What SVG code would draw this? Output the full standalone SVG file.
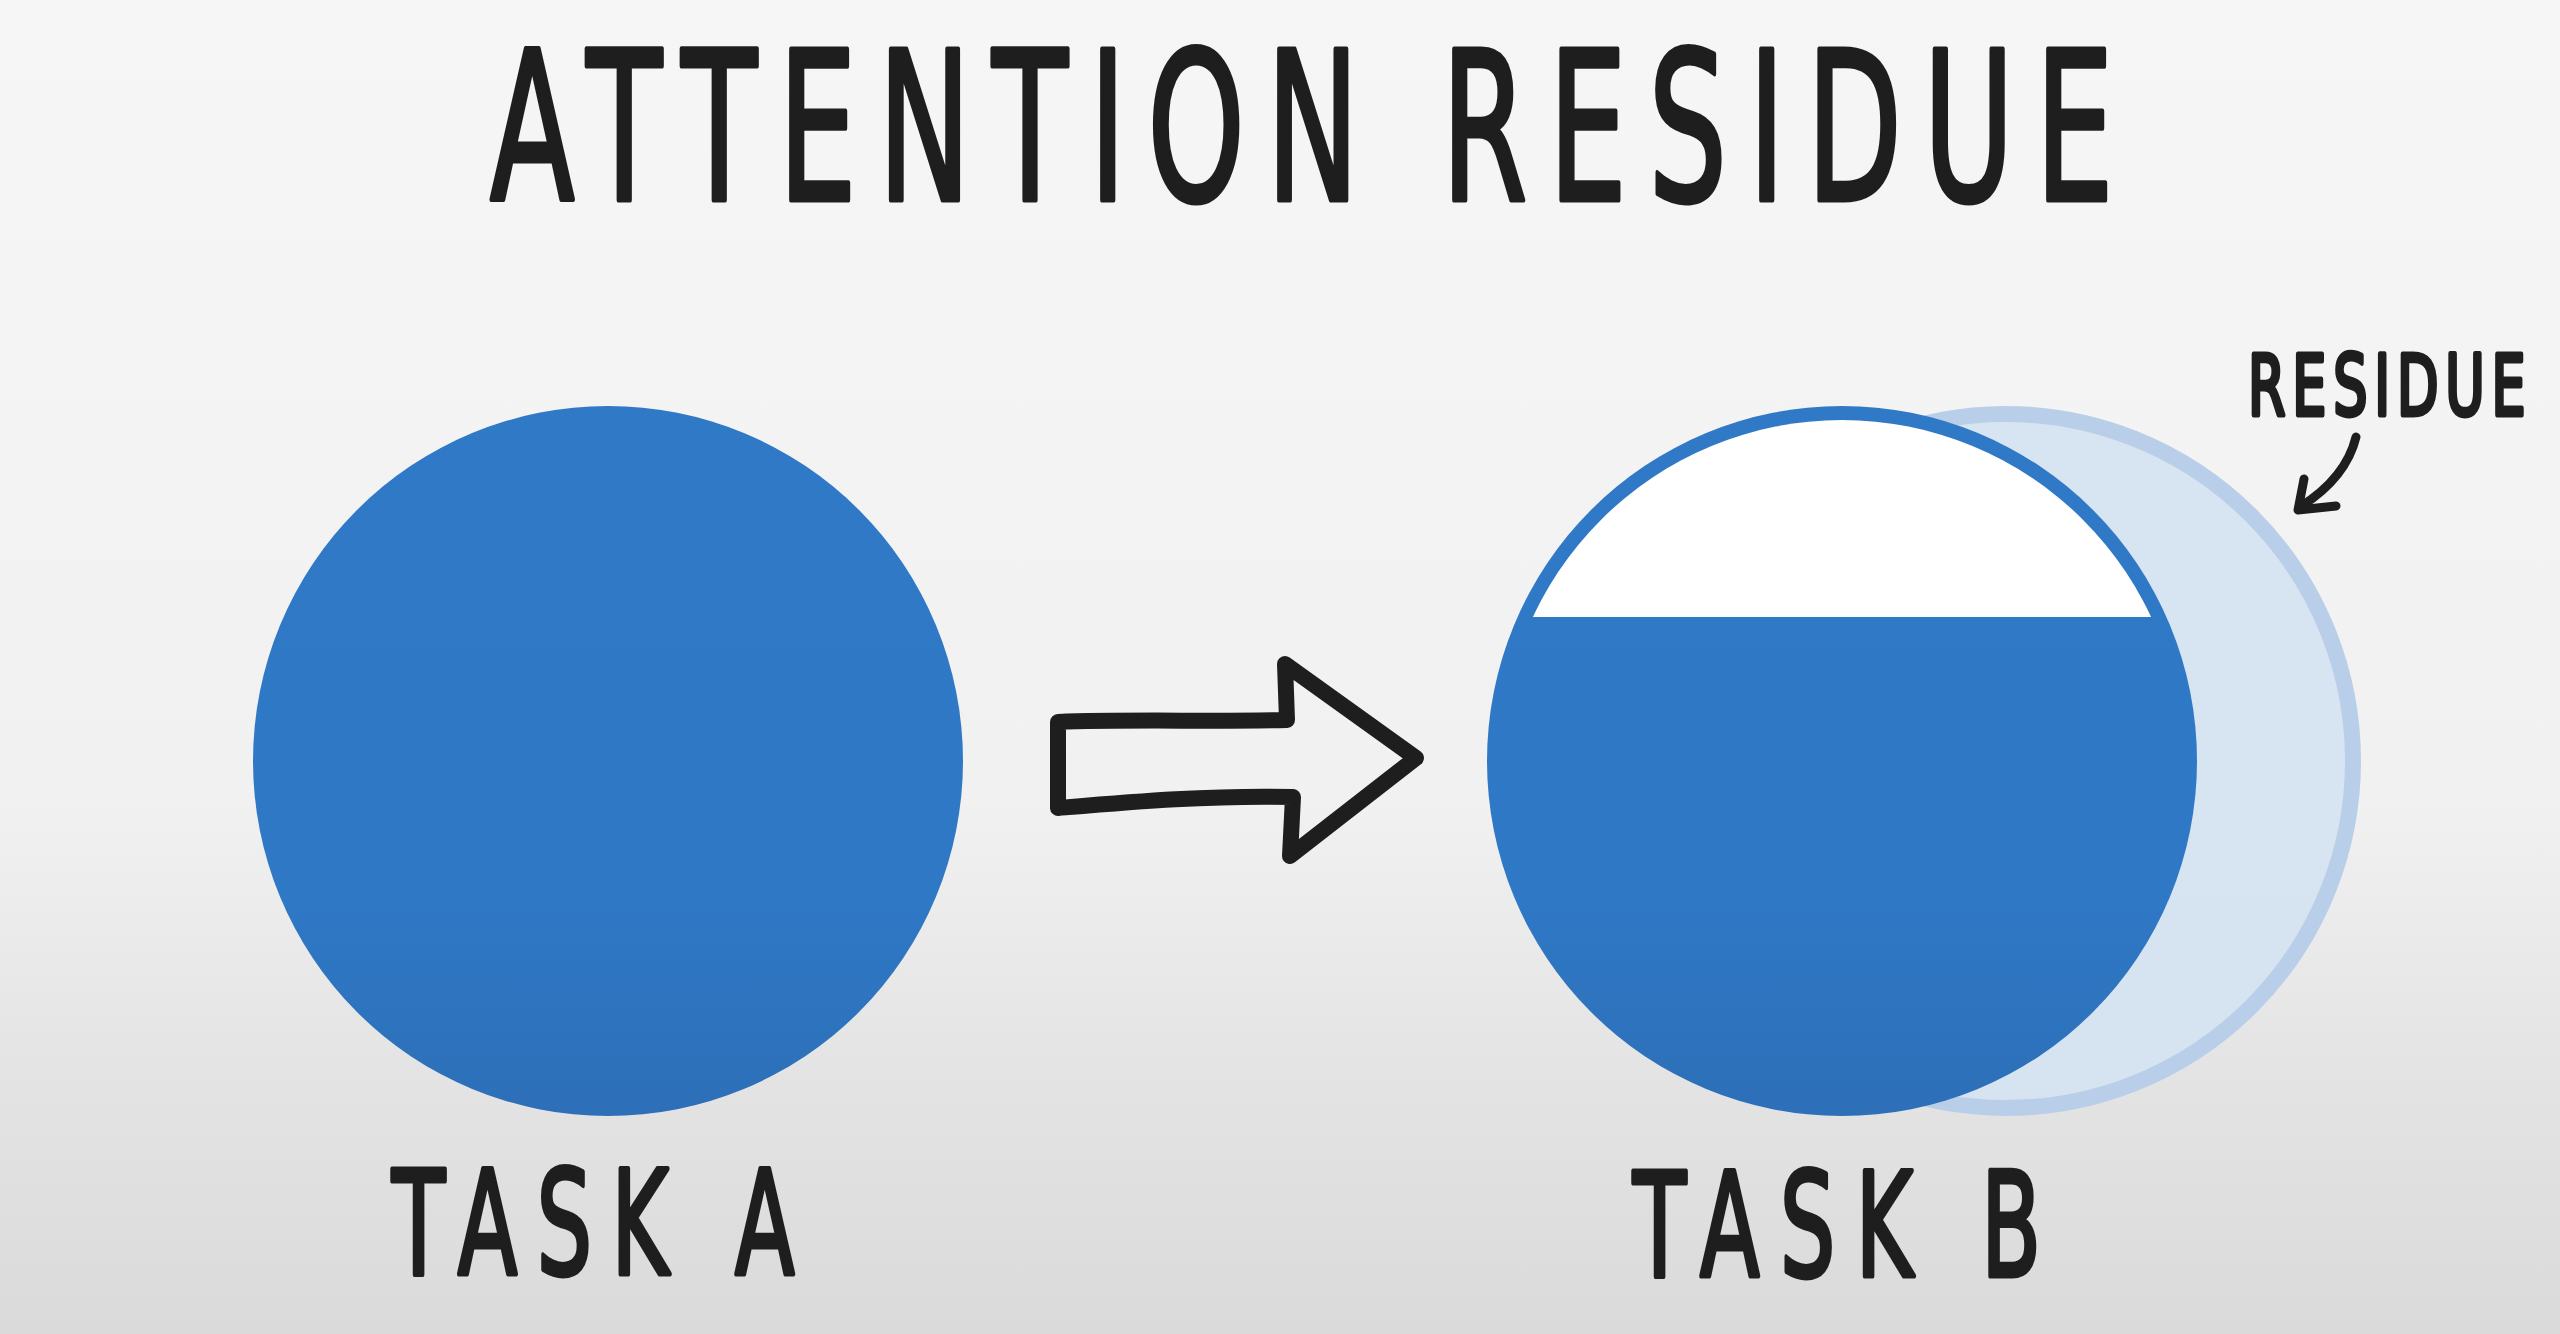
<svg xmlns="http://www.w3.org/2000/svg" width="2560" height="1334" viewBox="0 0 2560 1334">
  <defs>
    <linearGradient id="bg" x1="0" y1="0" x2="0" y2="1">
      <stop offset="0" stop-color="#f6f6f6"/>
      <stop offset="0.6" stop-color="#f1f1f1"/>
      <stop offset="0.8" stop-color="#e4e4e4"/>
      <stop offset="1" stop-color="#dadada"/>
    </linearGradient>
    <linearGradient id="blue" x1="0" y1="0" x2="0" y2="1">
      <stop offset="0" stop-color="#3079c6"/>
      <stop offset="0.7" stop-color="#2f78c5"/>
      <stop offset="1" stop-color="#2d6fb8"/>
    </linearGradient>
    <clipPath id="capClip">
      <rect x="1400" y="380" width="900" height="237"/>
    </clipPath>
  </defs>
  <style>
    .ink { font-family: "DejaVu Sans", "Liberation Sans", sans-serif; fill: #1e1e1e; stroke: #1e1e1e; stroke-width: 5; stroke-linejoin: round; }
    .line { fill: none; stroke: #1e1e1e; stroke-linecap: round; stroke-linejoin: round; }
  </style>

  <rect x="0" y="0" width="2560" height="1334" fill="url(#bg)"/>

  <g id="title">
    <text class="ink" transform="scale(0.6,1)" x="816.7" y="200" font-size="206" textLength="2706" lengthAdjust="spacing">ATTENTION RESIDUE</text>
  </g>

  <g id="task-a">
    <circle cx="608" cy="761" r="355" fill="url(#blue)"/>
    <text class="ink" transform="scale(0.6,1)" x="653.3" y="1274" font-size="145" textLength="671" lengthAdjust="spacing">TASK A</text>
  </g>

  <g id="residue">
    <circle cx="2006" cy="761" r="347" fill="#d4e2f2" fill-opacity="0.9" stroke="#b9cfe9" stroke-width="16"/>
  </g>

  <g id="task-b">
    <circle cx="1842" cy="761" r="355" fill="url(#blue)"/>
    <circle cx="1842" cy="761" r="341" fill="#ffffff" clip-path="url(#capClip)"/>
    <text class="ink" transform="scale(0.6,1)" x="2721.7" y="1276" font-size="145" textLength="680" lengthAdjust="spacing">TASK B</text>
  </g>

  <g id="residue-label">
    <text class="ink" transform="scale(0.65,1)" x="3458.5" y="415" font-size="83" stroke-width="3" textLength="427" lengthAdjust="spacing">RESIDUE</text>
  </g>

  <g id="connectors">
    <path class="line" stroke-width="16" d="M1058,722 C1130,719 1210,722 1287,720 L1285,664 L1416,758 L1290,856 L1293,797 C1210,795 1130,802 1058,808 Z"/>
    <path class="line" stroke-width="9" d="M2356,437 Q2346,478 2300,507"/>
    <path class="line" stroke-width="9" d="M2304,479 L2298,510 L2336,506"/>
  </g>
</svg>
